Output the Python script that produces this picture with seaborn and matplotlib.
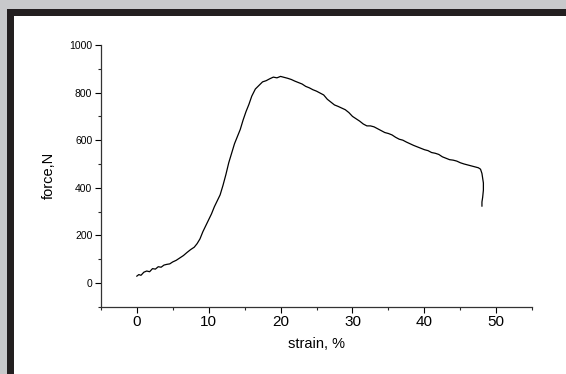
import matplotlib
matplotlib.use("Agg")
import matplotlib.pyplot as plt
from matplotlib.patches import Rectangle
from matplotlib.ticker import MultipleLocator
import seaborn as sns
import pandas as pd

strain = [0.0, 0.3, 0.6, 1.0, 1.4, 1.8, 2.2, 2.6, 3.0, 3.4, 3.8, 4.2, 4.6, 5.0, 5.5,
          6.0, 6.5, 7.0, 7.5, 8.0, 8.4, 8.8, 9.2, 9.6, 10.0, 10.4, 10.8, 11.2, 11.6,
          12.0, 12.4, 12.8, 13.2, 13.6, 14.0, 14.4, 14.8, 15.2, 15.6, 16.0, 16.5,
          17.0, 17.5, 18.0, 18.5, 19.0, 19.5, 20.0, 20.5, 21.0, 21.5, 22.0, 22.5,
          23.0, 23.5, 24.0, 24.5, 25.0, 25.5, 26.0, 26.5, 27.0, 27.5, 28.0, 28.5,
          29.0, 29.5, 30.0, 30.5, 31.0, 31.5, 32.0, 32.5, 33.0, 33.5, 34.0, 34.5,
          35.0, 35.5, 36.0, 36.5, 37.0, 37.5, 38.0, 38.5, 39.0, 39.5, 40.0, 40.5,
          41.0, 41.5, 42.0, 42.5, 43.0, 43.5, 44.0, 44.5, 45.0, 45.5, 46.0, 46.5,
          47.0, 47.5, 47.8, 48.0, 48.2, 48.2, 48.1, 48.0, 48.0]
force = [28, 35, 32, 45, 50, 47, 60, 58, 68, 66, 75, 78, 80, 88, 95,
         105, 115, 128, 140, 150, 165, 185, 215, 240, 265, 290, 320, 345, 370,
         410, 455, 505, 545, 585, 615, 645, 685, 720, 750, 785, 815,
         830, 845, 850, 858, 865, 862, 868, 864, 860, 855, 848, 842,
         836, 826, 820, 812, 806, 798, 790, 772, 760, 748, 742, 735,
         728, 716, 700, 690, 680, 668, 660, 660, 656, 648, 640, 632,
         628, 622, 612, 604, 600, 592, 585, 578, 572, 566, 560, 556,
         548, 545, 540, 530, 524, 518, 516, 512, 505, 500, 496, 492,
         488, 484, 478, 460, 420, 390, 360, 340, 322]

xticks = [0, 10, 20, 30, 40, 50]
yticks = [0, 200, 400, 600, 800, 1000]

df = pd.DataFrame({"strain": strain, "force": force})

sns.set_theme(style="white")
plt.rcParams["font.family"] = ["Liberation Sans", "DejaVu Sans"]

fig = plt.figure(figsize=(5.66, 3.74), dpi=100)
fig.patch.set_facecolor("white")
W, H = 566, 374
# outer gray band and dark frame (top and left)
fig.patches.append(Rectangle((0, 1 - 9 / H), 1, 9 / H, transform=fig.transFigure,
                             facecolor="#c8c9cb", edgecolor="none", zorder=0))
fig.patches.append(Rectangle((0, 0), 7 / W, 1, transform=fig.transFigure,
                             facecolor="#c8c9cb", edgecolor="none", zorder=0))
fig.patches.append(Rectangle((7 / W, 1 - 16 / H), 1 - 7 / W, 7 / H, transform=fig.transFigure,
                             facecolor="#231f20", edgecolor="none", zorder=1))
fig.patches.append(Rectangle((7 / W, 0), 7 / W, 1 - 9 / H, transform=fig.transFigure,
                             facecolor="#231f20", edgecolor="none", zorder=1))

ax = fig.add_axes([100.7 / W, 1 - 306.7 / H, (532.3 - 100.7) / W, (306.7 - 45) / H])
ax.set_facecolor("white")
sns.lineplot(data=df, x="strain", y="force", sort=False, estimator=None,
             color="black", linewidth=0.9, ax=ax)

ax.set_xlim(-5, 55)
ax.set_ylim(-100, 1000)
ax.set_xticks(xticks)
ax.set_yticks(yticks)
ax.xaxis.set_minor_locator(MultipleLocator(5))
ax.yaxis.set_minor_locator(MultipleLocator(100))
ax.tick_params(axis="x", which="major", direction="out", length=4, width=0.8,
               labelsize=11, pad=2, bottom=True, colors="black")
ax.tick_params(axis="x", which="minor", direction="out", length=2, width=0.8, bottom=True)
ax.tick_params(axis="y", which="major", direction="out", length=4, width=0.8,
               labelsize=7.5, pad=2, left=True, colors="black")
ax.tick_params(axis="y", which="minor", direction="out", length=2, width=0.8, left=True)

for s in ["top", "right"]:
    ax.spines[s].set_visible(False)
for s in ["left", "bottom"]:
    ax.spines[s].set_color("#333333")
    ax.spines[s].set_linewidth(0.9)

ax.set_xlabel("strain, %", fontsize=10.5, labelpad=6, color="black")
ax.set_ylabel("force,N", fontsize=10.5, labelpad=10, color="black")

fig.savefig("out.png", dpi=100, facecolor=fig.get_facecolor())
